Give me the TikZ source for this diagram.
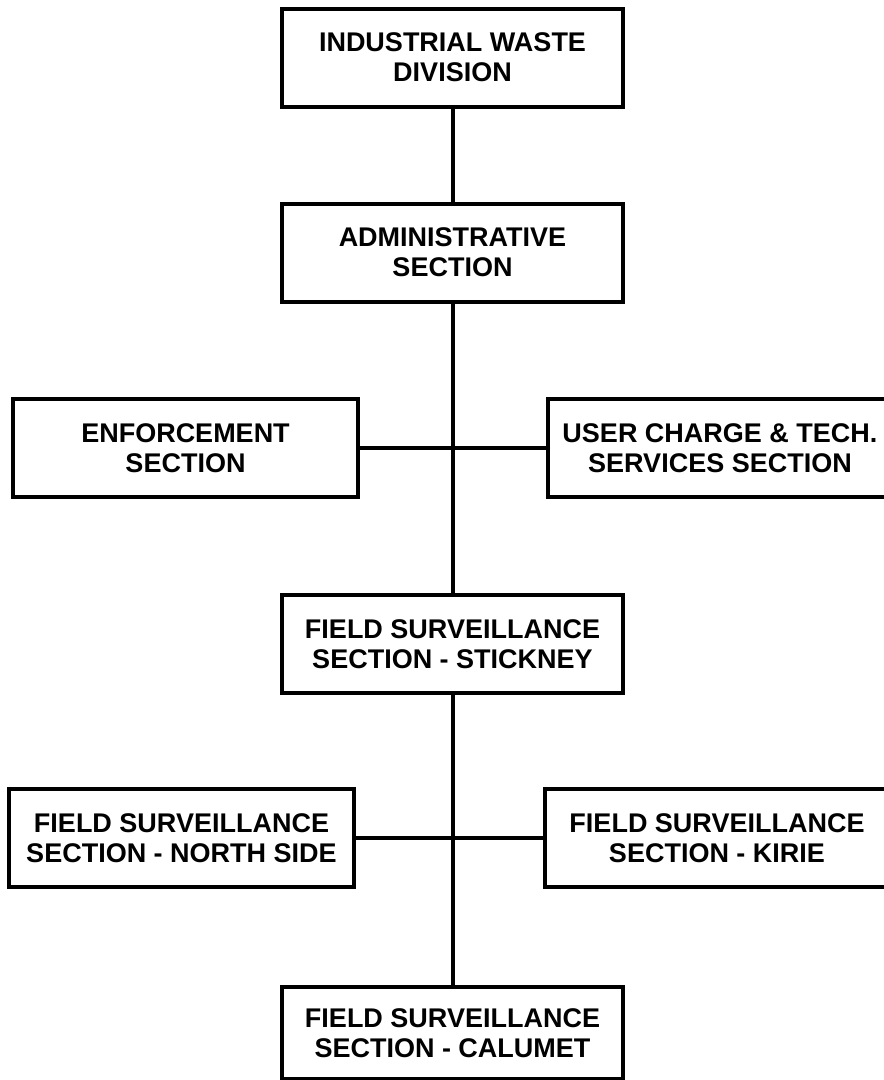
\documentclass[tikz,border=0pt]{standalone}
\usepackage{fontspec}
\setmainfont{Liberation Sans}
\usepackage{tikz}

\newcommand{\boxfont}{\fontsize{27}{30}\selectfont\bfseries}

\begin{document}
\begin{tikzpicture}[x=1pt, y=-1pt]
\tikzstyle{every node} = [draw, line width=4pt, inner sep=0pt, align=center, minimum width=341pt, minimum height=98pt, font=\boxfont]
\tikzstyle{side} = [minimum width=345pt]
\useasboundingbox (0,0) rectangle (884,1080);
\node (div) at (452.5, 57.5) {INDUSTRIAL WASTE\\DIVISION};
\node (admin) at (452.5, 252.5) {ADMINISTRATIVE\\SECTION};
\node[side] (enf) at (185.5, 448) {ENFORCEMENT\\SECTION};
\node[side] (user) at (720, 448) {USER CHARGE \& TECH.\\SERVICES SECTION};
\node (stick) at (452.5, 644) {FIELD SURVEILLANCE\\SECTION - STICKNEY};
\node[side] (north) at (181.5, 838) {FIELD SURVEILLANCE\\SECTION - NORTH SIDE};
\node[side] (kirie) at (717, 838) {FIELD SURVEILLANCE\\SECTION - KIRIE};
\node[minimum height=92pt] (calumet) at (452.5, 1033) {FIELD SURVEILLANCE\\SECTION - CALUMET};
\foreach \from/\to in {div/admin, admin/stick, stick/calumet, enf/user, north/kirie}
\draw [line width=4pt] (\from) -- (\to);
\end{tikzpicture}
\end{document}
